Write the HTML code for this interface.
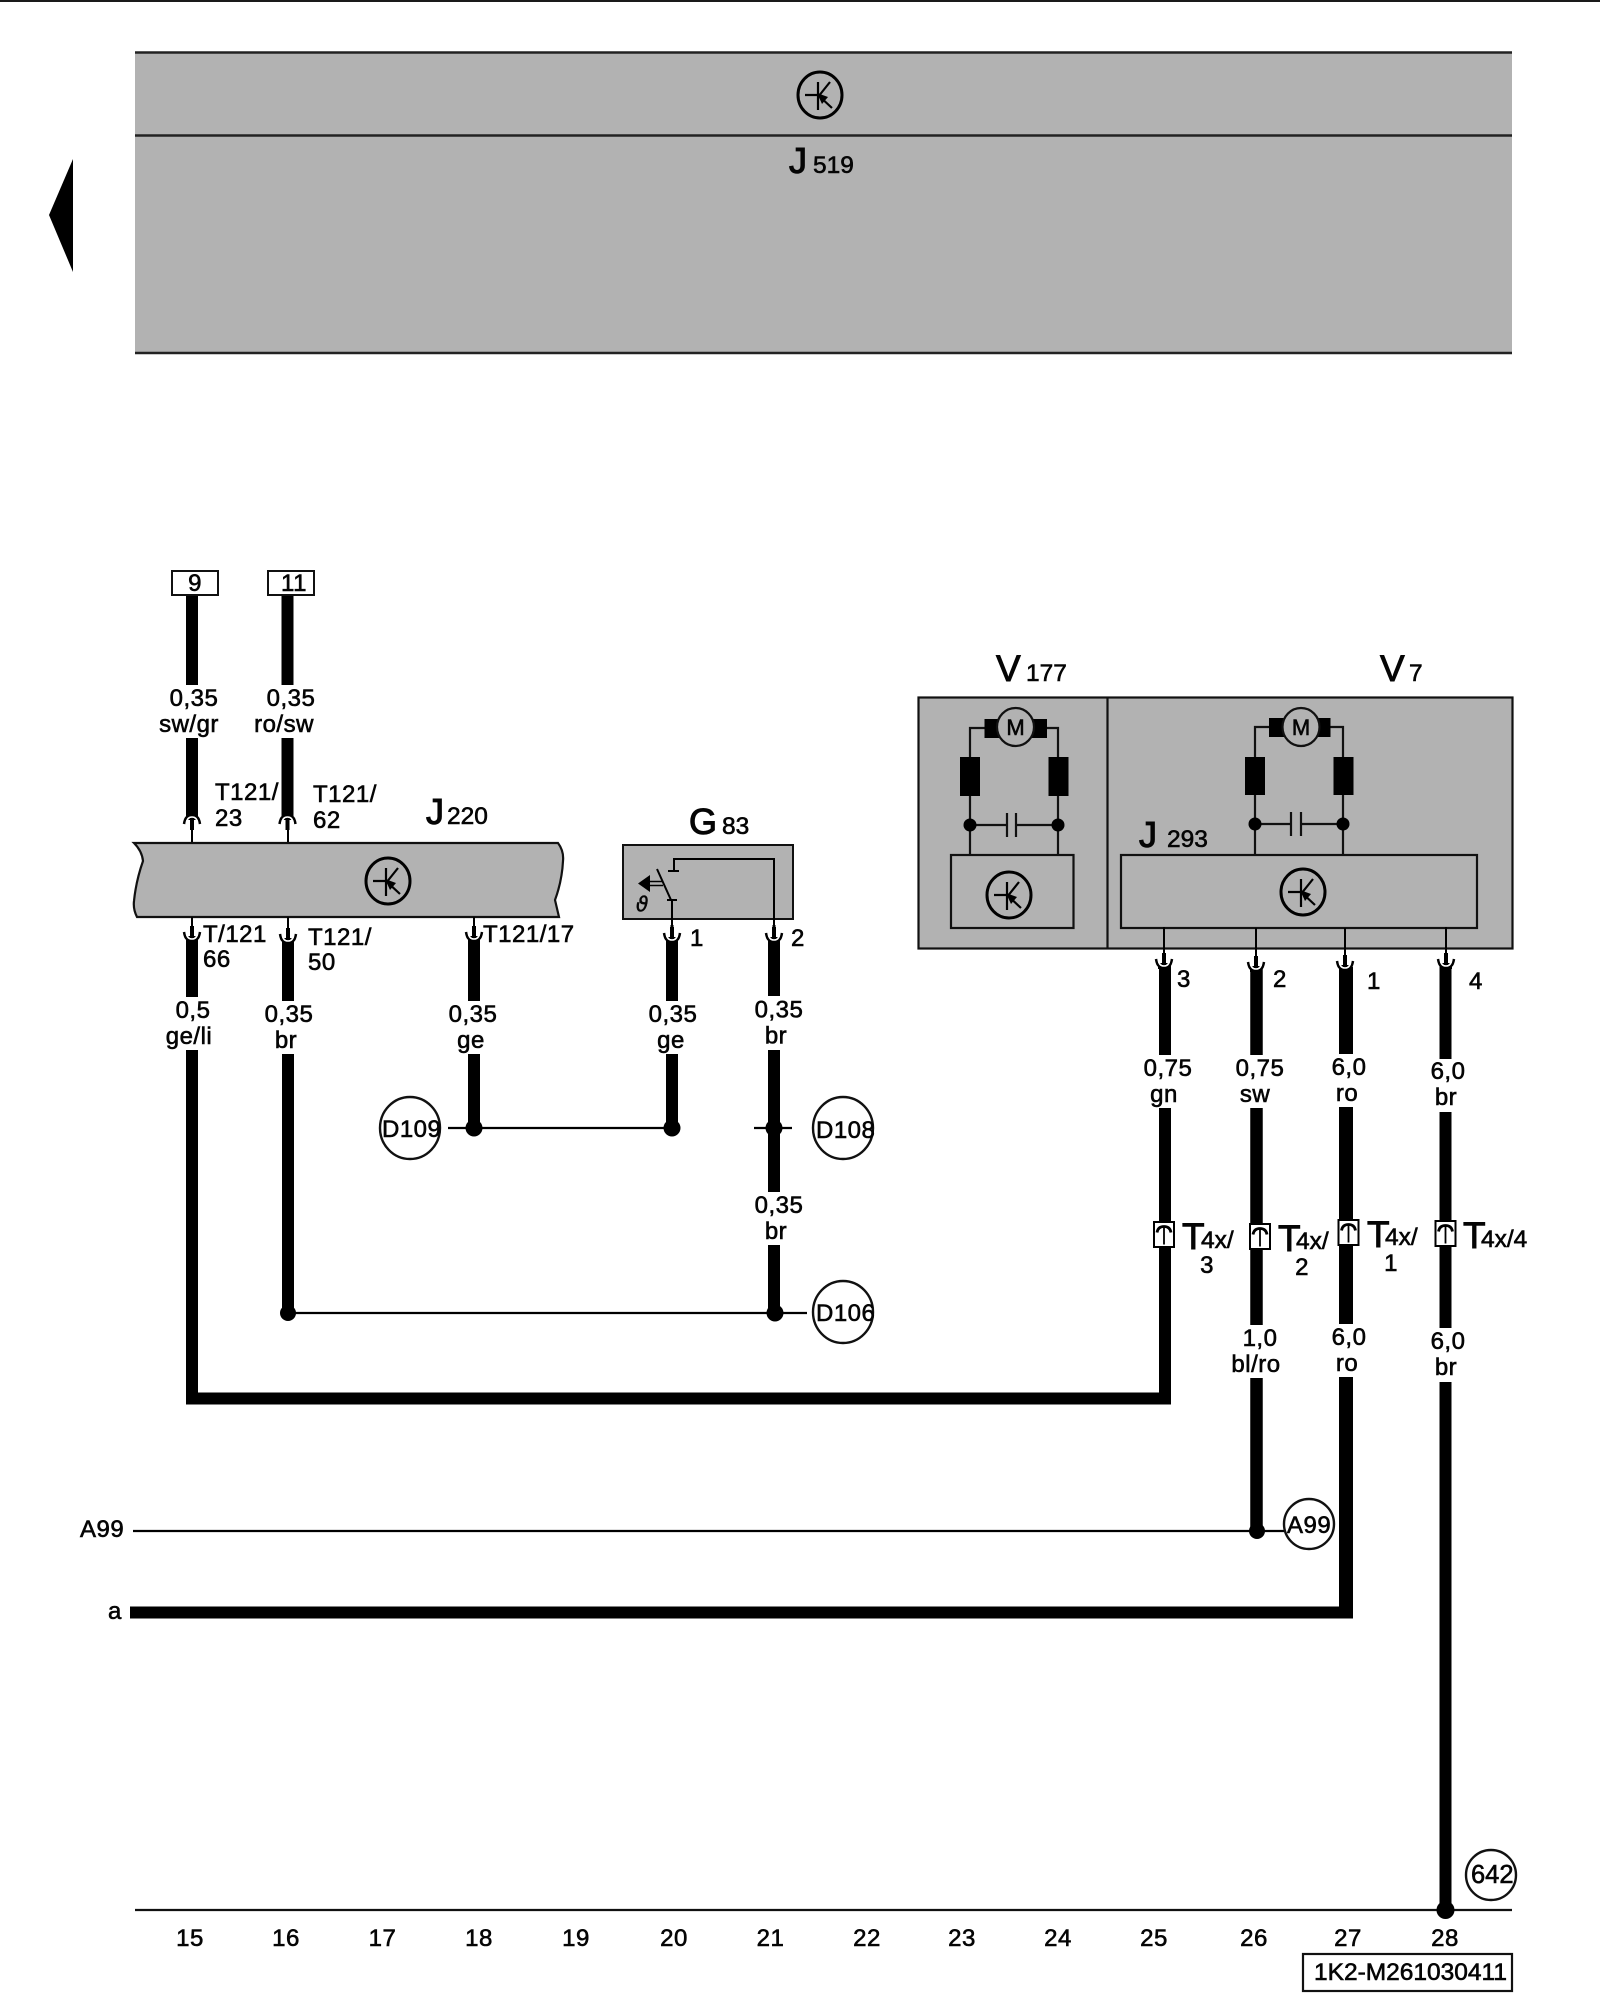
<!DOCTYPE html>
<html><head><meta charset="utf-8"><style>
html,body{margin:0;padding:0;background:#fff}
svg{display:block}
text{font-family:"Liberation Sans",sans-serif;fill:#050505;stroke:#050505;stroke-width:.6;font-size:24px;letter-spacing:.5px}
.m{text-anchor:middle}
.b{font-size:36px;letter-spacing:0;stroke-width:1.1}
.L{font-size:37px;letter-spacing:0;stroke-width:.9}
.s{font-size:24.500px;letter-spacing:0}
</style></head><body>
<svg width="1600" height="2000" viewBox="0 0 1600 2000" xmlns="http://www.w3.org/2000/svg">
<defs>
<g id="ic" fill="none" stroke="#000">
<ellipse rx="22" ry="23" stroke-width="3"/>
<path d="M-15,0H-1M-2,-13V15M-2,2L10,-13M-2,0L12,13" stroke-width="2.200"/>
<path d="M-3,-2L8,2L2,9Z" fill="#000" stroke="none"/>
</g>
<g id="cd">
<path d="M0,-10V3" stroke="#000" stroke-width="4"/>
<path d="M-6,0H6V6H-6Z" fill="#000"/>
<path d="M-8,-4Q-7,2 -5,3M8,-4Q7,2 5,3" stroke="#000" stroke-width="2.500" fill="none"/>
<path d="M-5.500,-3Q-5,3 0,3Q5,3 5.500,-3" stroke="#fff" stroke-width="1.600" fill="none"/>
<path d="M0,-10V2" stroke="#000" stroke-width="4"/>
</g>
<g id="tc">
<rect x="-10" y="-12.500" width="20" height="25" fill="#fff" stroke="#000" stroke-width="2"/>
<path d="M-7,-2Q-6,-8 0,-8Q6,-8 7,-2" fill="none" stroke="#000" stroke-width="2.800"/>
<path d="M0,-7V10" stroke="#000" stroke-width="1.800"/>
</g>
</defs>

<rect x="0" y="0" width="1600" height="2" fill="#1a1a1a"/>
<path d="M49,215L73,159V272Z" fill="#000"/>

<!-- J519 -->
<rect x="135" y="52" width="1377" height="301" fill="#b2b2b2"/>
<path d="M135,52.500H1512M135,135.500H1512M135,353H1512" stroke="#222" stroke-width="2.400"/>
<use href="#ic" x="820" y="95"/>
<text x="789" y="173" class="b">J</text><text x="813" y="173" class="s">519</text>

<!-- wires top left -->
<path d="M192,596V685M192,738V820M287.500,596V685M287.500,738V820" stroke="#000" stroke-width="12"/>
<rect x="172" y="571" width="46" height="24" fill="#fff" stroke="#111" stroke-width="2"/>
<rect x="268" y="571" width="46" height="24" fill="#fff" stroke="#111" stroke-width="2"/>
<text x="195" y="591" class="m">9</text><text x="294" y="591" class="m">11</text>
<text x="194" y="706" class="m">0,35</text><text x="189" y="732" class="m">sw/gr</text>
<text x="291" y="706" class="m">0,35</text><text x="284" y="732" class="m">ro/sw</text>
<g transform="translate(192,820) scale(1,-1)"><use href="#cd"/></g>
<g transform="translate(287.500,820) scale(1,-1)"><use href="#cd"/></g>
<path d="M192,820V842M288,820V842" stroke="#000" stroke-width="2"/>
<text x="215" y="800">T121/</text><text x="215" y="826">23</text>
<text x="313" y="802">T121/</text><text x="313" y="828">62</text>
<text x="426" y="824" class="b">J</text><text x="447" y="824" class="s">220</text>

<!-- J220 strip -->
<path d="M134,843H558Q564,851 563,861Q562,881 555,900L559,917H137Q133,909 134,901Q136,881 143,861Q142,851 134,843Z" fill="#b2b2b2" stroke="#111" stroke-width="2.200"/>
<use href="#ic" x="388" y="881"/>
<path d="M192,917V938M288,917V938M474,917V938" stroke="#000" stroke-width="2"/>
<path d="M192,938V997M192,1050V1398M288,938V1001M288,1054V1313M474,938V1001M474,1054V1128" stroke="#000" stroke-width="12"/>
<use href="#cd" x="192" y="936"/><use href="#cd" x="288" y="938"/><use href="#cd" x="474" y="936"/>
<text x="203" y="942">T/121</text><text x="203" y="967">66</text>
<text x="308" y="945">T121/</text><text x="308" y="970">50</text>
<text x="483" y="942">T121/17</text>
<text x="193" y="1018" class="m">0,5</text><text x="189" y="1044" class="m">ge/li</text>
<text x="289" y="1022" class="m">0,35</text><text x="286" y="1048" class="m">br</text>
<text x="473" y="1022" class="m">0,35</text><text x="471" y="1048" class="m">ge</text>

<!-- G83 -->
<text x="689" y="834" class="b">G</text><text x="722" y="834" class="s">83</text>
<rect x="623" y="845" width="170" height="74" fill="#b2b2b2" stroke="#111" stroke-width="2"/>
<path d="M774,925V859H674V871M668,871H679M657,869L671,900M667,900H677M672,900V925" fill="none" stroke="#000" stroke-width="2"/>
<path d="M650,881.500H663M650,885.500H663" stroke="#000" stroke-width="1.600"/>
<path d="M638,883.500L650,875V892Z" fill="#000"/>
<text x="636" y="911" style="font-size:20px;font-family:'DejaVu Sans',sans-serif;font-style:italic;letter-spacing:0;stroke-width:.5">ϑ</text>
<path d="M672,925V939M774,925V939" stroke="#000" stroke-width="3"/>
<path d="M672,939V1001M672,1054V1128M774,939V996M774,1050V1192M774,1245V1314" stroke="#000" stroke-width="12"/>
<use href="#cd" x="672" y="937"/><use href="#cd" x="774" y="937"/>
<text x="690" y="946">1</text><text x="791" y="946">2</text>
<text x="673" y="1022" class="m">0,35</text><text x="671" y="1048" class="m">ge</text>
<text x="779" y="1017.500" class="m">0,35</text><text x="776" y="1043.500" class="m">br</text>
<text x="779" y="1213" class="m">0,35</text><text x="776" y="1239" class="m">br</text>

<!-- cross links -->
<path d="M448,1128H672M754,1128H792M288,1313H807" stroke="#000" stroke-width="2.200"/>
<circle cx="474" cy="1128" r="8.500"/><circle cx="672" cy="1128" r="8.500"/><circle cx="774" cy="1128" r="8.500"/>
<circle cx="288" cy="1313" r="8"/><circle cx="775" cy="1313" r="8.500"/>
<ellipse cx="410" cy="1128" rx="30" ry="31" fill="#fff" stroke="#111" stroke-width="2.400"/>
<ellipse cx="843" cy="1128" rx="30" ry="31" fill="#fff" stroke="#111" stroke-width="2.400"/>
<ellipse cx="843" cy="1312" rx="30" ry="31" fill="#fff" stroke="#111" stroke-width="2.400"/>
<text x="382" y="1137">D109</text>
<text x="816" y="1138">D108</text>
<text x="816" y="1321">D106</text>

<!-- V177/V7 -->
<text x="996" y="681" class="L">V</text><text x="1026" y="681" class="s">177</text>
<text x="1380" y="681" class="L">V</text><text x="1409" y="681" class="s">7</text>
<rect x="918.500" y="697.500" width="594" height="251" fill="#b2b2b2" stroke="#111" stroke-width="2.200"/>
<path d="M1107.500,697V949" stroke="#111" stroke-width="2.200"/>
<rect x="951" y="855" width="122.500" height="73" fill="#b2b2b2" stroke="#111" stroke-width="2.200"/>
<rect x="1121" y="855" width="356" height="73" fill="#b2b2b2" stroke="#111" stroke-width="2.200"/>
<use href="#ic" x="1009" y="895"/><use href="#ic" x="1303" y="892"/>
<text x="1139" y="847" class="b">J</text><text x="1167" y="847" class="s">293</text>
<!-- left motor -->
<path d="M970,855V728H1058V855M970,825H1007M1016,825H1058" fill="none" stroke="#111" stroke-width="2.200"/>
<path d="M1007,813V837M1016,813V837" stroke="#111" stroke-width="2.200"/>
<rect x="984.500" y="719" width="62.500" height="19" fill="#000"/>
<ellipse cx="1015.500" cy="727" rx="18.500" ry="19" fill="#b2b2b2" stroke="#111" stroke-width="2.200"/>
<text x="1015.500" y="735" class="m" style="font-size:22px;letter-spacing:0">M</text>
<rect x="960" y="757" width="20" height="39" fill="#000"/><rect x="1048.500" y="757" width="20" height="39" fill="#000"/>
<circle cx="970" cy="825" r="6.500"/><circle cx="1058" cy="825" r="6.500"/>
<!-- right motor -->
<path d="M1255,855V727H1343V855M1255,824H1291M1301,824H1343" fill="none" stroke="#111" stroke-width="2.200"/>
<path d="M1291,812V836M1301,812V836" stroke="#111" stroke-width="2.200"/>
<rect x="1269" y="718" width="61.500" height="19" fill="#000"/>
<ellipse cx="1301" cy="727" rx="18.500" ry="19" fill="#b2b2b2" stroke="#111" stroke-width="2.200"/>
<text x="1301" y="735" class="m" style="font-size:22px;letter-spacing:0">M</text>
<rect x="1245" y="757" width="20" height="38" fill="#000"/><rect x="1333.500" y="757" width="20" height="38" fill="#000"/>
<circle cx="1255" cy="824" r="6.500"/><circle cx="1343" cy="824" r="6.500"/>

<!-- right wires -->
<path d="M1164,927V965M1256,928V968M1345,928V967M1446,927V965" stroke="#000" stroke-width="2"/>
<path d="M1165,965V1055M1165,1108V1404M186,1398.500H1171" stroke="#000" stroke-width="12" fill="none"/>
<path d="M1256.500,968V1055M1256.500,1108V1325M1256.500,1378V1531" stroke="#000" stroke-width="12.500"/>
<path d="M1346,967V1054M1346,1107V1324M1346,1377V1618" stroke="#000" stroke-width="14"/>
<path d="M1445.500,965V1059M1445.500,1112V1328M1445.500,1382V1910" stroke="#000" stroke-width="12"/>
<use href="#cd" x="1164" y="963"/><use href="#cd" x="1256" y="966"/><use href="#cd" x="1345" y="965"/><use href="#cd" x="1446" y="963"/>
<text x="1177" y="987">3</text><text x="1273" y="987">2</text><text x="1367" y="989">1</text><text x="1469" y="989">4</text>
<text x="1168" y="1076" class="m">0,75</text><text x="1164" y="1102" class="m">gn</text>
<text x="1260" y="1076" class="m">0,75</text><text x="1255" y="1102" class="m">sw</text>
<text x="1349" y="1075" class="m">6,0</text><text x="1347" y="1101" class="m">ro</text>
<text x="1448" y="1079" class="m">6,0</text><text x="1446" y="1105" class="m">br</text>
<text x="1260" y="1346" class="m">1,0</text><text x="1256" y="1372" class="m">bl/ro</text>
<text x="1349" y="1345" class="m">6,0</text><text x="1347" y="1371" class="m">ro</text>
<text x="1448" y="1349" class="m">6,0</text><text x="1446" y="1375" class="m">br</text>

<use href="#tc" x="1164" y="1234.500"/><use href="#tc" x="1260" y="1236.500"/><use href="#tc" x="1348.500" y="1232.500"/><use href="#tc" x="1445.500" y="1233.500"/>
<text x="1182" y="1249" class="L">T</text><text x="1201" y="1248" class="s">4x/</text><text x="1207" y="1273" class="m">3</text>
<text x="1278" y="1251" class="L">T</text><text x="1296" y="1249" class="s">4x/</text><text x="1302" y="1275" class="m">2</text>
<text x="1367" y="1247" class="L">T</text><text x="1385" y="1245" class="s">4x/</text><text x="1391" y="1271" class="m">1</text>
<text x="1463" y="1248" class="L">T</text><text x="1481" y="1247" class="s">4x/4</text>

<!-- A99 / a -->
<path d="M133,1531H1286" stroke="#000" stroke-width="2.200"/>
<circle cx="1257" cy="1531" r="8"/>
<ellipse cx="1309" cy="1524" rx="25" ry="25" fill="#fff" stroke="#111" stroke-width="2.400"/>
<text x="1287" y="1533">A99</text>
<text x="80" y="1537">A99</text>
<path d="M130,1612.500H1353" stroke="#000" stroke-width="12"/>
<text x="108" y="1619">a</text>

<!-- bottom -->
<path d="M135,1910H1512" stroke="#111" stroke-width="2.200"/>
<circle cx="1445.500" cy="1910" r="9"/>
<circle cx="1491" cy="1875" r="25" fill="#fff" stroke="#111" stroke-width="2.400"/>
<text x="1471" y="1883" style="font-size:25.500px;letter-spacing:0">642</text>
<g>
<text x="190" y="1946" class="m">15</text><text x="286" y="1946" class="m">16</text><text x="382.500" y="1946" class="m">17</text><text x="479" y="1946" class="m">18</text><text x="576" y="1946" class="m">19</text><text x="674" y="1946" class="m">20</text><text x="770.500" y="1946" class="m">21</text><text x="867" y="1946" class="m">22</text><text x="962" y="1946" class="m">23</text><text x="1058" y="1946" class="m">24</text><text x="1154" y="1946" class="m">25</text><text x="1254" y="1946" class="m">26</text><text x="1348" y="1946" class="m">27</text><text x="1445" y="1946" class="m">28</text>
</g>
<rect x="1303" y="1954" width="209" height="37" fill="#fff" stroke="#111" stroke-width="2.200"/>
<text x="1314" y="1980" style="font-size:24.500px;letter-spacing:0">1K2-M261030411</text>
</svg>
</body></html>
